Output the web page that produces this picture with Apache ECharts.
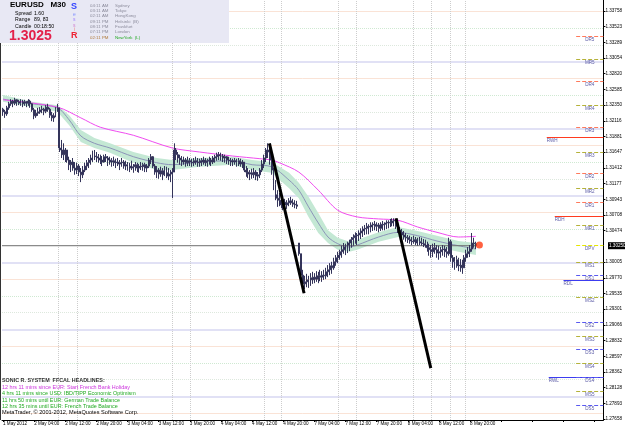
<!DOCTYPE html>
<html><head><meta charset="utf-8">
<script src="https://cdn.jsdelivr.net/npm/echarts@6/dist/echarts.min.js"></script>
<style>html,body{margin:0;padding:0;background:#fff}#c{width:625px;height:429px}</style>
</head><body><div id="c"></div>
<script>
// ---- price data (EURUSD M30), bar 0 = 1 May 2012 20:00 ----
const opens = [
1.3229,1.3225,1.3222,1.3231,1.3237,1.3241,1.3238,1.3243,1.3240,1.3238,
1.3241,1.3237,1.3240,1.3238,1.3241,1.3237,1.3228,1.3219,1.3223,1.3225,
1.3228,1.3229,1.3226,1.3232,1.3229,1.3220,1.3216,1.3219,1.3228,1.3231,
1.3171,1.3168,1.3161,1.3168,1.3153,1.3146,1.3150,1.3141,1.3138,1.3144,
1.3135,1.3131,1.3138,1.3144,1.3149,1.3153,1.3156,1.3162,1.3159,1.3158,
1.3156,1.3153,1.3150,1.3158,1.3156,1.3153,1.3150,1.3152,1.3149,1.3150,
1.3147,1.3149,1.3150,1.3144,1.3146,1.3143,1.3144,1.3141,1.3143,1.3146,
1.3141,1.3144,1.3143,1.3146,1.3141,1.3144,1.3153,1.3158,1.3144,1.3135,
1.3138,1.3132,1.3137,1.3131,1.3138,1.3134,1.3129,1.3132,1.3135,1.3168,
1.3161,1.3156,1.3153,1.3150,1.3153,1.3149,1.3152,1.3150,1.3149,1.3152,
1.3150,1.3149,1.3152,1.3150,1.3153,1.3149,1.3152,1.3153,1.3150,1.3156,
1.3158,1.3161,1.3159,1.3159,1.3156,1.3158,1.3153,1.3152,1.3150,1.3152,
1.3150,1.3149,1.3152,1.3147,1.3150,1.3138,1.3135,1.3132,1.3134,1.3131,
1.3135,1.3129,1.3131,1.3138,1.3147,1.3156,1.3168,1.3165,1.3153,1.3138,
1.3116,1.3101,1.3096,1.3093,1.3086,1.3090,1.3086,1.3089,1.3092,1.3089,
1.3087,1.3086,1.3029,1.3013,1.2981,1.2968,1.2971,1.2974,1.2968,1.2977,
1.2974,1.2978,1.2975,1.2980,1.2978,1.2981,1.2980,1.2986,1.2989,1.2995,
1.2992,1.3001,1.3007,1.3011,1.3016,1.3019,1.3023,1.3019,1.3026,1.3029,
1.3034,1.3037,1.3040,1.3041,1.3044,1.3047,1.3050,1.3051,1.3054,1.3053,
1.3056,1.3057,1.3054,1.3056,1.3051,1.3057,1.3056,1.3057,1.3059,1.3060,
1.3059,1.3062,1.3063,1.3054,1.3048,1.3045,1.3041,1.3038,1.3037,1.3034,
1.3032,1.3031,1.3034,1.3029,1.3032,1.3031,1.3029,1.3028,1.3026,1.3022,
1.3019,1.3016,1.3022,1.3019,1.3014,1.3016,1.3019,1.3020,1.3016,1.3013,
1.3031,1.3007,1.3001,1.2998,1.3004,1.2995,1.2996,1.2992,1.3007,1.3013,
1.3016,1.3020,1.3029,1.3028];
const highs = [
1.3231,1.3228,1.3234,1.3240,1.3244,1.3243,1.3246,1.3244,1.3243,1.3244,
1.3243,1.3243,1.3241,1.3244,1.3243,1.3238,1.3231,1.3228,1.3231,1.3232,
1.3234,1.3231,1.3235,1.3237,1.3231,1.3225,1.3223,1.3232,1.3237,1.3231,
1.3183,1.3178,1.3171,1.3168,1.3158,1.3153,1.3156,1.3150,1.3149,1.3147,
1.3141,1.3144,1.3149,1.3153,1.3156,1.3161,1.3167,1.3168,1.3165,1.3162,
1.3161,1.3159,1.3161,1.3162,1.3159,1.3158,1.3156,1.3158,1.3155,1.3156,
1.3153,1.3156,1.3153,1.3152,1.3150,1.3149,1.3152,1.3147,1.3150,1.3149,
1.3147,1.3150,1.3149,1.3149,1.3147,1.3156,1.3162,1.3159,1.3147,1.3144,
1.3141,1.3143,1.3141,1.3144,1.3143,1.3141,1.3138,1.3141,1.3178,1.3171,
1.3165,1.3161,1.3159,1.3158,1.3156,1.3158,1.3156,1.3155,1.3156,1.3158,
1.3156,1.3155,1.3156,1.3158,1.3156,1.3155,1.3158,1.3156,1.3159,1.3161,
1.3164,1.3165,1.3164,1.3162,1.3161,1.3159,1.3158,1.3156,1.3155,1.3156,
1.3155,1.3156,1.3155,1.3153,1.3150,1.3144,1.3141,1.3138,1.3140,1.3141,
1.3138,1.3135,1.3141,1.3153,1.3161,1.3171,1.3178,1.3175,1.3168,1.3141,
1.3123,1.3108,1.3104,1.3101,1.3096,1.3095,1.3093,1.3096,1.3098,1.3095,
1.3093,1.3092,1.3029,1.3013,1.2989,1.2980,1.2983,1.2980,1.2984,1.2986,
1.2984,1.2987,1.2986,1.2989,1.2987,1.2989,1.2992,1.2996,1.2999,1.3001,
1.3007,1.3011,1.3016,1.3019,1.3025,1.3029,1.3028,1.3031,1.3034,1.3038,
1.3042,1.3045,1.3044,1.3048,1.3051,1.3054,1.3056,1.3059,1.3057,1.3060,
1.3060,1.3062,1.3060,1.3059,1.3060,1.3062,1.3060,1.3063,1.3063,1.3065,
1.3066,1.3066,1.3065,1.3057,1.3053,1.3050,1.3047,1.3044,1.3041,1.3040,
1.3038,1.3040,1.3038,1.3037,1.3038,1.3037,1.3035,1.3034,1.3031,1.3028,
1.3026,1.3028,1.3029,1.3026,1.3025,1.3023,1.3026,1.3025,1.3023,1.3037,
1.3034,1.3011,1.3008,1.3010,1.3007,1.3005,1.3004,1.3011,1.3019,1.3023,
1.3026,1.3044,1.3037,1.3031];
const lows = [
1.3219,1.3216,1.3219,1.3228,1.3234,1.3232,1.3235,1.3234,1.3235,1.3234,
1.3232,1.3234,1.3232,1.3234,1.3231,1.3225,1.3214,1.3216,1.3219,1.3222,
1.3223,1.3220,1.3223,1.3225,1.3216,1.3211,1.3210,1.3217,1.3225,1.3165,
1.3156,1.3153,1.3150,1.3149,1.3138,1.3135,1.3137,1.3131,1.3132,1.3129,
1.3120,1.3126,1.3135,1.3138,1.3141,1.3146,1.3150,1.3153,1.3150,1.3149,
1.3147,1.3144,1.3149,1.3150,1.3144,1.3146,1.3143,1.3144,1.3141,1.3144,
1.3138,1.3143,1.3140,1.3138,1.3137,1.3135,1.3138,1.3134,1.3137,1.3135,
1.3134,1.3138,1.3137,1.3135,1.3135,1.3141,1.3147,1.3141,1.3131,1.3126,
1.3125,1.3128,1.3123,1.3129,1.3126,1.3123,1.3120,1.3096,1.3135,1.3153,
1.3149,1.3146,1.3144,1.3146,1.3143,1.3144,1.3144,1.3143,1.3144,1.3146,
1.3143,1.3143,1.3144,1.3146,1.3144,1.3143,1.3146,1.3144,1.3147,1.3149,
1.3152,1.3153,1.3152,1.3150,1.3149,1.3147,1.3146,1.3144,1.3144,1.3146,
1.3143,1.3144,1.3143,1.3141,1.3135,1.3128,1.3126,1.3123,1.3125,1.3126,
1.3123,1.3122,1.3126,1.3135,1.3141,1.3150,1.3156,1.3146,1.3131,1.3108,
1.3093,1.3083,1.3084,1.3081,1.3078,1.3081,1.3080,1.3084,1.3086,1.3083,
1.3081,1.3080,1.3010,1.2977,1.2957,1.2960,1.2963,1.2962,1.2965,1.2968,
1.2969,1.2971,1.2969,1.2972,1.2971,1.2974,1.2975,1.2978,1.2981,1.2983,
1.2989,1.2995,1.2999,1.3004,1.3007,1.3013,1.3011,1.3014,1.3017,1.3022,
1.3025,1.3028,1.3026,1.3032,1.3035,1.3038,1.3041,1.3042,1.3042,1.3045,
1.3047,1.3048,1.3047,1.3045,1.3047,1.3048,1.3048,1.3050,1.3051,1.3053,
1.3054,1.3054,1.3050,1.3044,1.3040,1.3037,1.3034,1.3031,1.3029,1.3028,
1.3026,1.3028,1.3026,1.3025,1.3026,1.3025,1.3023,1.3022,1.3016,1.3010,
1.3007,1.3008,1.3013,1.3007,1.3004,1.3007,1.3010,1.3008,1.3007,1.3010,
1.3001,1.2992,1.2989,1.2992,1.2987,1.2986,1.2983,1.2992,1.3001,1.3007,
1.3008,1.3016,1.3022,1.3020];
const closes = [
1.3225,1.3222,1.3231,1.3237,1.3241,1.3238,1.3243,1.3240,1.3238,1.3241,
1.3237,1.3240,1.3238,1.3241,1.3237,1.3228,1.3219,1.3223,1.3225,1.3228,
1.3229,1.3226,1.3232,1.3229,1.3220,1.3216,1.3219,1.3228,1.3231,1.3171,
1.3168,1.3161,1.3168,1.3153,1.3146,1.3150,1.3141,1.3138,1.3144,1.3135,
1.3131,1.3138,1.3144,1.3149,1.3153,1.3156,1.3162,1.3159,1.3158,1.3156,
1.3153,1.3150,1.3158,1.3156,1.3153,1.3150,1.3152,1.3149,1.3150,1.3147,
1.3149,1.3150,1.3144,1.3146,1.3143,1.3144,1.3141,1.3143,1.3146,1.3141,
1.3144,1.3143,1.3146,1.3141,1.3144,1.3153,1.3158,1.3144,1.3135,1.3138,
1.3132,1.3137,1.3131,1.3138,1.3134,1.3129,1.3132,1.3135,1.3168,1.3161,
1.3156,1.3153,1.3150,1.3153,1.3149,1.3152,1.3150,1.3149,1.3152,1.3150,
1.3149,1.3152,1.3150,1.3153,1.3149,1.3152,1.3153,1.3150,1.3156,1.3158,
1.3161,1.3159,1.3159,1.3156,1.3158,1.3153,1.3152,1.3150,1.3152,1.3150,
1.3149,1.3152,1.3147,1.3150,1.3138,1.3135,1.3132,1.3134,1.3131,1.3135,
1.3129,1.3131,1.3138,1.3147,1.3156,1.3168,1.3165,1.3153,1.3138,1.3116,
1.3101,1.3096,1.3093,1.3086,1.3090,1.3086,1.3089,1.3092,1.3089,1.3087,
1.3086,1.3084,1.3013,1.2981,1.2968,1.2971,1.2974,1.2968,1.2977,1.2974,
1.2978,1.2975,1.2980,1.2978,1.2981,1.2980,1.2986,1.2989,1.2995,1.2992,
1.3001,1.3007,1.3011,1.3016,1.3019,1.3023,1.3019,1.3026,1.3029,1.3034,
1.3037,1.3040,1.3041,1.3044,1.3047,1.3050,1.3051,1.3054,1.3053,1.3056,
1.3057,1.3054,1.3056,1.3051,1.3057,1.3056,1.3057,1.3059,1.3060,1.3059,
1.3062,1.3063,1.3054,1.3048,1.3045,1.3041,1.3038,1.3037,1.3034,1.3032,
1.3031,1.3034,1.3029,1.3032,1.3031,1.3029,1.3028,1.3026,1.3022,1.3019,
1.3016,1.3022,1.3019,1.3014,1.3016,1.3019,1.3020,1.3016,1.3013,1.3031,
1.3007,1.3001,1.2998,1.3004,1.2995,1.2996,1.2992,1.3007,1.3013,1.3016,
1.3020,1.3029,1.3028,1.3025];

// Sonic R dragon band (EMA34 high / low / close), read at sample bars
const dragonIdx  = [0,15,28,34,40,47,55,67,79,87,101,118,128,138,147,152,157,162,167,172,178,182,193,203,213,223,234,243];
const dragonHigh = [1.3250,1.3240,1.3235,1.3220,1.3198,1.3186,1.3178,1.3165,1.3156,1.3153,1.3156,1.3158,1.3153,1.3150,1.3134,1.3119,1.3098,1.3074,1.3048,1.3037,1.3031,1.3034,1.3045,1.3053,1.3047,1.3040,1.3032,1.3029];
const dragonLow  = [1.3240,1.3232,1.3225,1.3205,1.3180,1.3171,1.3164,1.3149,1.3138,1.3138,1.3143,1.3146,1.3138,1.3134,1.3111,1.3096,1.3068,1.3044,1.3029,1.3019,1.3016,1.3019,1.3031,1.3038,1.3032,1.3023,1.3016,1.3011];
const dragonMid  = [1.3244,1.3237,1.3231,1.3213,1.3189,1.3178,1.3171,1.3158,1.3149,1.3146,1.3150,1.3152,1.3146,1.3143,1.3123,1.3108,1.3083,1.3059,1.3038,1.3028,1.3023,1.3026,1.3038,1.3045,1.3040,1.3032,1.3025,1.3020];
// trend EMA (magenta)
const trendIdx = [0,28,40,50,67,87,101,118,132,138,142,152,162,172,182,193,203,213,223,234,243];
const trendVal = [1.3243,1.3232,1.3216,1.3202,1.3190,1.3171,1.3165,1.3159,1.3155,1.3153,1.3149,1.3135,1.3108,1.3078,1.3068,1.3065,1.3063,1.3053,1.3045,1.3038,1.3039];
// hand drawn trend lines [barStart, priceStart, barEnd, priceEnd]
const drawnLines = [[136.9,1.3178,154.7,1.2954],[202,1.3066,219.8,1.2842]];
// pivot levels
const levelNames  = ['DR5','MR5','DR4','MR4','DR3','RWH','MR3','DR2','MR2','DR1','RDH','MR1','DPV','MS1','DS1','RDL','MS2','DS2','MS3','DS3','MS4','RWL','DS4','MS5','DS5'];
const levelValues = [1.3338,1.3304,1.3270,1.3235,1.3202,1.3187,1.3165,1.3134,1.3111,1.3090,1.3069,1.3056,1.3025,1.3001,1.2981,1.2974,1.2948,1.2911,1.2890,1.2871,1.2850,1.2829,1.2829,1.2807,1.2787];
// quarter-figure reference lines
const quarterLevels = [1.2775,1.2800,1.2825,1.2850,1.2875,1.2900,1.2925,1.2950,1.2975,1.3000,1.3050,1.3075,1.3100,1.3125,1.3150,1.3175,1.3200,1.3225,1.3250,1.3275,1.3300,1.3325,1.3350,1.3375];
// session separator lines (bar positions)
const sessionBars = [28.5,38.2,87,96.2,134.4,143,172.5,181.7,210.7,219.9,230,237.7];
const bidPrice = 1.3025;
const lastTick = [244.8, 1.3026];
// axis labels
const xTickLabels = ['1 May 2012','2 May 04:00','2 May 12:00','2 May 20:00','3 May 04:00','3 May 12:00','3 May 20:00','4 May 04:00','4 May 12:00','4 May 20:00','7 May 04:00','7 May 12:00','7 May 20:00','8 May 04:00','8 May 12:00','8 May 20:00'];
const yTickLabels = [1.33758,1.33523,1.33289,1.33054,1.32820,1.32585,1.32350,1.32116,1.31881,1.31647,1.31412,1.31177,1.30943,1.30708,1.30474,1.30005,1.29770,1.29535,1.29301,1.29066,1.28832,1.28597,1.28362,1.28128,1.27893,1.27658];

const SLOTS = 309, LABEL_EVERY = 16;
const FONT = 'Liberation Sans, Arial, sans-serif';
const chart = echarts.init(document.getElementById('c'), null, {renderer:'canvas'});
const cats = []; for (let i = 0; i < SLOTS; i++) cats.push(String(i));
const candles = opens.map((o, i) => [o, closes[i], lows[i], highs[i]]);

function levelStyle(n){
  if (n === 'RWH' || n === 'RDH') return {color:'#ff3b1f', type:'solid', start: n==='RWH'?279.4:283.5, pos:'insideStartBottom'};
  if (n === 'RDL' || n === 'RWL') return {color:'#3c3cf0', type:'solid', start: n==='RWL'?280.4:288, pos:'insideStartBottom'};
  if (n === 'DPV') return {color:'#e6e600', type:'dashed', start:294.5, pos:'insideMiddleBottom'};
  if (n.startsWith('DR')) return {color:'#ff7a5c', type:'dashed', start:294.5, pos:'insideMiddleBottom'};
  if (n.startsWith('DS')) return {color:'#5a5af0', type:'dashed', start:294.5, pos:'insideMiddleBottom'};
  return {color:'#b5b23a', type:'dashed', start:294.5, pos:'insideMiddleBottom'};
}
const levelLines = levelNames.map((n, k) => {
  const s = levelStyle(n);
  return [{coord:[s.start, levelValues[k]], lineStyle:{color:s.color, type:s.type, width:1},
           label:{show:true, formatter:n, position:s.pos, distance:[0,1], color:'#5b5ba6', fontSize:4.6, fontFamily:FONT}},
          {coord:[SLOTS-0.5, levelValues[k]]}];
});
function quarterStyle(v){
  const q = Math.round(v*10000) % 100;
  if (q === 0)  return {color:'#e1e1f5', width:2, type:'solid'};
  if (q === 50) return {color:'#cfe9d2', width:1, type:'dotted'};
  if (q === 75) return {color:'#fae3d6', width:1, type:'solid'};
  return {color:'#dde8dd', width:1, type:'dotted'};
}
const quarterLines = quarterLevels.map(v => [{coord:[-0.5, v], lineStyle:quarterStyle(v), label:{show:false}}, {coord:[SLOTS-0.5, v]}]);
const sessionLines = sessionBars.map(b => ({xAxis:b, lineStyle:{color:'#cdcdcd', type:'dotted', width:1}, label:{show:false}}));

const option = {
  animation:false,
  backgroundColor:'#ffffff',
  grid:{left:0, right:18, top:0, bottom:9, containLabel:false},
  xAxis:[
    {type:'category', data:cats, boundaryGap:true,
     axisLine:{show:true, onZero:false, lineStyle:{color:'#000', width:1}},
     axisTick:{show:true, interval:(i)=>i%LABEL_EVERY===0, length:2, lineStyle:{color:'#000'}, alignWithLabel:true},
     axisLabel:{show:true, interval:(i)=>i%LABEL_EVERY===0, formatter:(v,i)=>xTickLabels[i/LABEL_EVERY]||'', align:'left', margin:1, fontSize:4.6, color:'#000', fontFamily:FONT},
     splitLine:{show:false}},
    {type:'value', min:-0.5, max:SLOTS-0.5, show:false}
  ],
  yAxis:[{type:'value', position:'right', min:1.27646, max:1.33921, scale:true,
     axisLine:{show:true, onZero:false, lineStyle:{color:'#000'}},
     axisTick:{show:true, customValues:yTickLabels, length:2, inside:false, lineStyle:{color:'#000'}},
     axisLabel:{show:true, customValues:yTickLabels, formatter:(v)=>v.toFixed(5), margin:2, fontSize:4.6, color:'#000', fontFamily:FONT},
     splitLine:{show:false}}],
  series:[
    {type:'line', xAxisIndex:1, yAxisIndex:0, data:[], silent:true, z:0,
     markLine:{z:0, silent:true, symbol:['none','none'], animation:false, data:quarterLines.concat(sessionLines)}},
    {type:'custom', xAxisIndex:1, yAxisIndex:0, data:[0], silent:true, z:1,
     renderItem:(p, api)=>{
       const pts = [];
       dragonIdx.forEach((x,k)=>pts.push(api.coord([x, dragonHigh[k]])));
       for (let k = dragonIdx.length-1; k >= 0; k--) pts.push(api.coord([dragonIdx[k], dragonLow[k]]));
       return {type:'polygon', shape:{points:pts}, style:{fill:'#c4e8d4'}};
     }},
    {type:'line', xAxisIndex:1, yAxisIndex:0, data:dragonIdx.map((x,k)=>[x,dragonMid[k]]), smooth:0.3, symbol:'none', lineStyle:{color:'#8c94b8', width:1}, z:2, silent:true},
    {type:'line', xAxisIndex:1, yAxisIndex:0, data:trendIdx.map((x,k)=>[x,trendVal[k]]), smooth:0.3, symbol:'none', lineStyle:{color:'#f04cf0', width:1}, z:2, silent:true},
    {type:'line', xAxisIndex:1, yAxisIndex:0, data:[[-0.5,bidPrice],[243,bidPrice]], symbol:'none', lineStyle:{color:'#6e6e6e', width:1}, z:2, silent:true},
    {type:'candlestick', xAxisIndex:0, yAxisIndex:0, data:candles, barWidth:1.4, z:3, silent:true,
     itemStyle:{color:'#34345a', color0:'#34345a', borderColor:'#34345a', borderColor0:'#34345a', borderWidth:1}},
    ...drawnLines.map(l=>({type:'line', xAxisIndex:1, yAxisIndex:0, data:[[l[0],l[1]],[l[2],l[3]]], symbol:'none', lineStyle:{color:'#000', width:3}, z:6, silent:true})),
    {type:'scatter', xAxisIndex:1, yAxisIndex:0, data:[lastTick], symbolSize:7, itemStyle:{color:'#ff3a12'}, z:7, silent:true},
    {type:'line', xAxisIndex:1, yAxisIndex:0, data:[], silent:true, z:4,
     markLine:{z:4, silent:true, symbol:['none','none'], animation:false, data:levelLines}}
  ]
};
chart.setOption(option);

// ---- overlays: info panel, headlines, bid label ----
const yBid = chart.convertToPixel({yAxisIndex:0}, bidPrice);
const g = [];
const T = (text, x, y, size, fill, weight) => g.push({type:'text', left:x, top:y, z:50, style:{text, fontSize:size, fontFamily:FONT, fontWeight:weight||'normal', fill}});
g.push({type:'line', shape:{x1:0.5,y1:0,x2:0.5,y2:420}, style:{stroke:'#333', lineWidth:1}, z:45});
g.push({type:'rect', shape:{x:0,y:0,width:229,height:43}, style:{fill:'#e8e8f4'}, z:46});
T('EURUSD   M30', 10, 1, 8, '#000', 'bold');
T('Spread', 15, 11, 5.2, '#000'); T('1.60', 34, 11, 5.2, '#000');
T('Range', 15, 17.5, 5.2, '#000'); T('89, 83', 34, 17.5, 5.2, '#000');
T('Candle', 15, 24, 5.2, '#000'); T('00:18:50', 34, 24, 5.2, '#000');
T('1.3025', 9, 29, 14, '#e3204a', 'bold');
T('S', 71, 2, 9, '#3344ff', 'bold');
T('e', 73, 12, 5, '#7f8fff'); T('s', 73, 17.5, 5, '#9f7fff'); T('s', 73, 23, 5, '#cf7fcf'); T('i', 74, 27, 5, '#ef7f7f');
T('R', 71, 31, 9, '#ee2233', 'bold');
const times = ['04:11 AM','03:11 AM','02:11 AM','09:11 PM','08:11 PM','07:11 PM','02:11 PM'];
const cities = ['Sydney','Tokyo','HongKong','Helsinki  (B)','Frankfurt','London','NewYork  (L)'];
times.forEach((t,k)=>{ T(t, 90, 3.5+k*5.3, 4.4, k===6?'#b07a3a':'#8c8c9c'); T(cities[k], 115, 3.5+k*5.3, 4.4, k===6?'#22aa22':'#8c8c9c'); });
T('SONIC R. SYSTEM  FFCAL HEADLINES:', 2, 378, 5.4, '#333', 'bold');
T('12 hrs 11 mins since EUR: Start French Bank Holiday', 2, 385, 5.4, '#cc33dd');
T('4 hrs 11 mins since USD: IBD/TIPP Economic Optimism', 2, 391.5, 5.4, '#22aa22');
T('11 hrs 50 mins until EUR: German Trade Balance', 2, 398, 5.4, '#22aa22');
T('12 hrs 35 mins until EUR: French Trade Balance', 2, 404, 5.4, '#22aa22');
T('MetaTrader, \u00a9 2001-2012, MetaQuotes Software Corp.', 2, 409, 5.6, '#000');
g.push({type:'rect', shape:{x:608, y:yBid-3.5, width:17, height:7}, style:{fill:'#000'}, z:60});
g.push({type:'text', left:609, top:yBid-2.8, z:61, style:{text:bidPrice.toFixed(5), fontSize:4.6, fontFamily:FONT, fill:'#fff'}});
chart.setOption({graphic:g});
</script></body></html>
